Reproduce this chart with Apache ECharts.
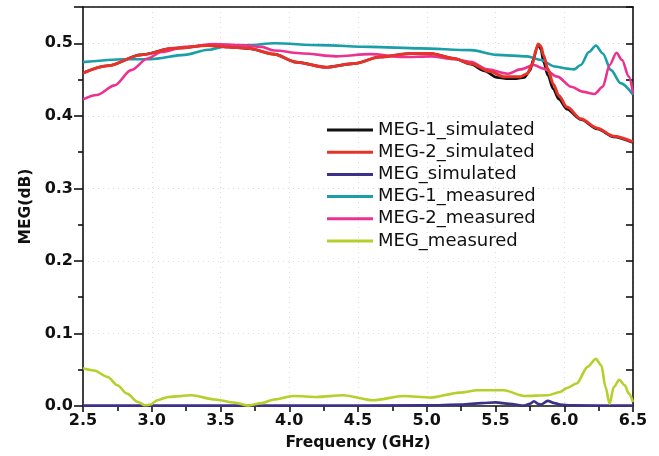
<!DOCTYPE html>
<html>
<head>
<meta charset="utf-8">
<title>MEG vs Frequency</title>
<script src="https://cdn.jsdelivr.net/npm/echarts@6/dist/echarts.min.js"></script>
<style>
  html, body { margin: 0; padding: 0; background: #ffffff; }
  #chart { width: 659px; height: 456px; }
</style>
</head>
<body>
<div id="chart"></div>
<script>
// Frequency axis ticks (GHz) and MEG axis ticks (dB)
const xTicks = [2.5, 3.0, 3.5, 4.0, 4.5, 5.0, 5.5, 6.0, 6.5];
const yTicks = [0.0, 0.1, 0.2, 0.3, 0.4, 0.5];

// MEG-2_simulated
const freqSim2 = [2.5, 2.68, 2.92, 3.16, 3.41, 3.55, 3.7, 3.89, 4.05, 4.27, 4.47, 4.66, 4.88, 5.03, 5.2, 5.32, 5.46, 5.56, 5.68, 5.73, 5.77, 5.79, 5.81, 5.83, 5.85, 5.88, 5.92, 5.96, 6.02, 6.12, 6.24, 6.36, 6.5];
const megSim2  = [0.459, 0.469, 0.484, 0.493, 0.497, 0.495, 0.493, 0.485, 0.474, 0.467, 0.472, 0.481, 0.486, 0.486, 0.479, 0.472, 0.461, 0.454, 0.454, 0.458, 0.472, 0.488, 0.499, 0.496, 0.483, 0.465, 0.444, 0.428, 0.412, 0.396, 0.383, 0.372, 0.364];

// MEG-1_simulated
const freqSim1 = [2.5, 2.68, 2.92, 3.16, 3.41, 3.55, 3.7, 3.89, 4.05, 4.27, 4.47, 4.66, 4.88, 5.03, 5.2, 5.32, 5.42, 5.51, 5.58, 5.65, 5.71, 5.75, 5.78, 5.8, 5.815, 5.83, 5.85, 5.88, 5.92, 5.96, 6.02, 6.12, 6.24, 6.36, 6.5];
const megSim1  = [0.459, 0.469, 0.484, 0.493, 0.497, 0.495, 0.493, 0.485, 0.474, 0.467, 0.472, 0.481, 0.486, 0.486, 0.479, 0.471, 0.462, 0.453, 0.451, 0.451, 0.453, 0.462, 0.48, 0.494, 0.498, 0.491, 0.474, 0.456, 0.437, 0.423, 0.409, 0.395, 0.382, 0.371, 0.363];

// MEG_simulated
const freqSimE = [2.5, 3.0, 4.0, 5.0, 5.25, 5.4, 5.5, 5.6, 5.71, 5.75, 5.78, 5.81, 5.83, 5.88, 5.93, 5.97, 6.05, 6.5];
const megSimE  = [0.0005, 0.0005, 0.0005, 0.0008, 0.002, 0.004, 0.005, 0.003, 0.0005, 0.003, 0.0065, 0.003, 0.002, 0.007, 0.004, 0.002, 0.0008, 0.0005];

// MEG-1_measured
const freqMea1 = [2.5, 2.8, 2.99, 3.24, 3.41, 3.55, 3.7, 3.89, 4.22, 4.59, 4.95, 5.32, 5.51, 5.73, 5.83, 5.93, 6.02, 6.07, 6.12, 6.18, 6.23, 6.28, 6.34, 6.41, 6.5];
const megMea1  = [0.474, 0.478, 0.478, 0.484, 0.491, 0.496, 0.4975, 0.5, 0.4975, 0.495, 0.493, 0.4906, 0.484, 0.482, 0.477, 0.468, 0.465, 0.464, 0.47, 0.488, 0.497, 0.486, 0.463, 0.445, 0.429];

// MEG-2_measured
const freqMea2 = [2.5, 2.6, 2.73, 2.85, 2.97, 3.07, 3.24, 3.46, 3.65, 3.8, 3.89, 4.1, 4.34, 4.59, 4.83, 5.03, 5.2, 5.32, 5.44, 5.59, 5.68, 5.78, 5.85, 5.95, 6.05, 6.14, 6.22, 6.28, 6.33, 6.38, 6.42, 6.47, 6.5];
const megMea2  = [0.4226, 0.4286, 0.442, 0.463, 0.479, 0.488, 0.495, 0.499, 0.4975, 0.495, 0.49, 0.486, 0.482, 0.485, 0.481, 0.482, 0.478, 0.4745, 0.464, 0.458, 0.464, 0.47, 0.465, 0.454, 0.44, 0.433, 0.43, 0.44, 0.47, 0.487, 0.477, 0.454, 0.431];

// MEG_measured
const freqMeaE = [2.5, 2.58, 2.68, 2.75, 2.82, 2.9, 2.95, 2.99, 3.04, 3.12, 3.29, 3.46, 3.6, 3.7, 3.8, 3.89, 4.03, 4.2, 4.39, 4.61, 4.83, 5.03, 5.24, 5.37, 5.56, 5.71, 5.88, 5.97, 6.02, 6.09, 6.17, 6.23, 6.27, 6.3, 6.33, 6.36, 6.4, 6.44, 6.47, 6.5];
const megMeaE  = [0.052, 0.049, 0.040, 0.0285, 0.017, 0.0055, 0.001, 0.002, 0.008, 0.0125, 0.0148, 0.009, 0.0047, 0.0005, 0.004, 0.009, 0.0138, 0.0125, 0.0148, 0.0079, 0.0138, 0.0116, 0.0185, 0.0217, 0.0217, 0.0138, 0.0148, 0.0193, 0.0248, 0.031, 0.054, 0.065, 0.056, 0.026, 0.003, 0.026, 0.036, 0.0285, 0.017, 0.0055];

const pairs = (xs, ys) => xs.map((x, i) => [x, ys[i]]);

const legendOrder = ['MEG-1_simulated', 'MEG-2_simulated', 'MEG_simulated', 'MEG-1_measured', 'MEG-2_measured', 'MEG_measured'];

function lineSeries(name, xs, ys, color, width) {
  return {
    name: name,
    type: 'line',
    xAxisIndex: 0,
    yAxisIndex: 0,
    data: pairs(xs, ys),
    showSymbol: false,
    symbol: 'none',
    smooth: 0.3,
    smoothMonotone: 'x',
    lineStyle: { color: color, width: width },
    itemStyle: { color: color },
    emphasis: { disabled: true },
    animation: false,
    z: 3
  };
}

const fontTick = { fontFamily: 'DejaVu Sans', fontWeight: 'bold', fontSize: 16, color: '#111' };
const axisLineStyle = { color: '#111', width: 1.6 };
const gridDots = { show: true, lineStyle: { color: '#dcdcdc', type: [1, 4], width: 1 } };

const chart = echarts.init(document.getElementById('chart'), null, { renderer: 'canvas' });

chart.setOption({
  animation: false,
  backgroundColor: '#ffffff',
  grid: { left: 83, right: 26, top: 7, bottom: 50, containLabel: false },
  legend: {
    orient: 'vertical',
    left: 327,
    top: 121,
    padding: 0,
    data: legendOrder,
    icon: 'rect',
    itemWidth: 46,
    itemHeight: 3,
    itemGap: 4.2,
    selectedMode: false,
    textStyle: { fontFamily: 'DejaVu Sans', fontSize: 18, color: '#111' }
  },
  xAxis: [
    {
      type: 'value',
      position: 'bottom',
      min: xTicks[0],
      max: xTicks[xTicks.length - 1],
      interval: 0.5,
      name: 'Frequency (GHz)',
      nameLocation: 'middle',
      nameGap: 29,
      nameTextStyle: { fontFamily: 'DejaVu Sans', fontWeight: 'bold', fontSize: 15.5, color: '#111' },
      axisLine: { show: true, onZero: false, lineStyle: axisLineStyle },
      axisTick: { show: true, inside: false, length: 6, lineStyle: axisLineStyle },
      minorTick: { show: true, splitNumber: 2, length: 5, lineStyle: { color: '#111', width: 1.6 } },
      axisLabel: Object.assign({ margin: 7, formatter: v => v.toFixed(1) }, fontTick),
      splitLine: gridDots
    },
    {
      type: 'value',
      position: 'top',
      min: xTicks[0],
      max: xTicks[xTicks.length - 1],
      interval: 0.5,
      axisLine: { show: true, onZero: false, lineStyle: axisLineStyle },
      axisTick: { show: false },
      axisLabel: { show: false },
      splitLine: { show: false }
    }
  ],
  yAxis: [
    {
      type: 'value',
      position: 'left',
      min: yTicks[0],
      max: 0.55,
      interval: 0.1,
      name: 'MEG(dB)',
      nameLocation: 'middle',
      nameGap: 49,
      nameTextStyle: { fontFamily: 'DejaVu Sans', fontWeight: 'bold', fontSize: 15.5, color: '#111' },
      axisLine: { show: true, onZero: false, lineStyle: axisLineStyle },
      axisTick: { show: true, inside: false, length: 9, lineStyle: axisLineStyle },
      minorTick: { show: true, splitNumber: 2, length: 5, lineStyle: { color: '#111', width: 1.6 } },
      axisLabel: Object.assign({ margin: 10, showMaxLabel: false, formatter: v => v.toFixed(1) }, fontTick),
      splitLine: gridDots
    },
    {
      type: 'value',
      position: 'right',
      min: yTicks[0],
      max: 0.55,
      interval: 0.1,
      axisLine: { show: true, onZero: false, lineStyle: axisLineStyle },
      axisTick: { show: true, inside: true, length: 7, lineStyle: axisLineStyle },
      minorTick: { show: true, splitNumber: 2, length: 7, lineStyle: { color: '#111', width: 1.6 } },
      axisLabel: { show: false },
      splitLine: { show: false }
    }
  ],
  series: [
    lineSeries('MEG-1_simulated', freqSim1, megSim1, '#111111', 2.6),
    lineSeries('MEG_simulated', freqSimE, megSimE, '#3b3189', 2.6),
    lineSeries('MEG-1_measured', freqMea1, megMea1, '#1a9ea8', 2.6),
    lineSeries('MEG-2_measured', freqMea2, megMea2, '#ec3290', 2.6),
    lineSeries('MEG_measured', freqMeaE, megMeaE, '#b7cf2b', 2.6),
    lineSeries('MEG-2_simulated', freqSim2, megSim2, '#e8332a', 3)
  ]
});
</script>
</body>
</html>
